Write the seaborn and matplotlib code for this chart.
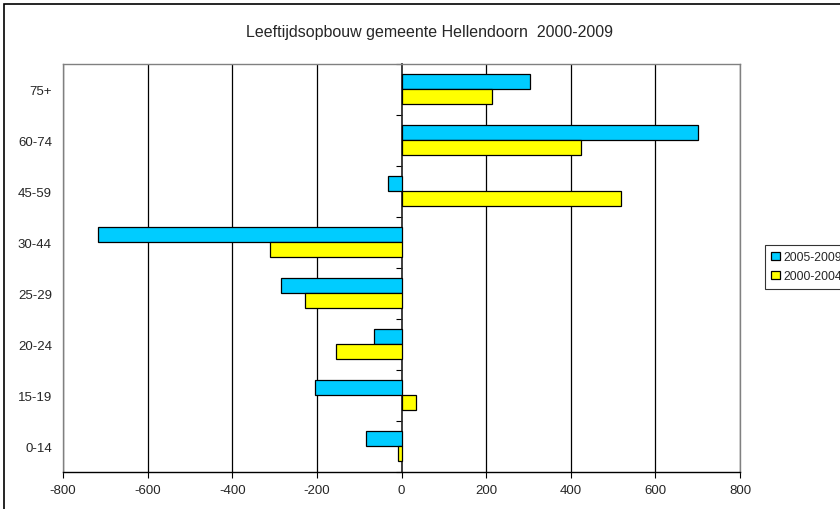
import matplotlib
matplotlib.use("Agg")
import matplotlib.pyplot as plt
import seaborn as sns
import pandas as pd
from matplotlib.patches import Rectangle
from matplotlib.ticker import FixedLocator

categories = ["75+", "60-74", "45-59", "30-44", "25-29", "20-24", "15-19", "0-14"]
series_names = ["2005-2009", "2000-2004"]
values_2005_2009 = [303, 700, -32, -718, -284, -66, -204, -83]
values_2000_2004 = [214, 424, 518, -311, -228, -154, 34, -8]
x_ticks = [-800, -600, -400, -200, 0, 200, 400, 600, 800]
colors = ["#00CCFF", "#FFFF00"]

df = pd.DataFrame({
    "cat": categories * 2,
    "val": values_2005_2009 + values_2000_2004,
    "series": [series_names[0]] * len(categories) + [series_names[1]] * len(categories),
})

sns.set_theme(style="white")
plt.rcParams["font.family"] = ["Liberation Sans", "DejaVu Sans"]

fig = plt.figure(figsize=(8.4, 5.1), dpi=100)
ax = fig.add_axes([63 / 840, 1 - 472.5 / 510, (740 - 63) / 840, (472.5 - 64.7) / 510])

sns.barplot(data=df, x="val", y="cat", hue="series", order=categories,
            hue_order=series_names, palette=colors, saturation=1, orient="h", width=0.58,
            edgecolor="black", linewidth=0.9, ax=ax, zorder=3, legend=True)

ax.set_xlim(-800, 800)
ax.set_ylim(len(categories) - 0.5, -0.5)
ax.set_xticks(x_ticks)
ax.set_xticklabels([str(t) for t in x_ticks], fontsize=9.5)
ax.set_xlabel("")
ax.set_ylabel("")
ax.tick_params(axis="y", length=0, pad=8, labelsize=9.5)
ax.tick_params(axis="x", direction="out", length=4, width=0.8, color="black", pad=5, bottom=True)
ax.grid(axis="x", color="black", linewidth=0.9, zorder=0)
ax.set_axisbelow(True)
for t, gl in zip(x_ticks, ax.xaxis.get_gridlines()):
    if t == 0:
        gl.set_visible(False)
for s in ax.spines.values():
    s.set_color("#808080")
    s.set_linewidth(1)
ax.spines["bottom"].set_color("black")

# category axis at zero with boundary tick marks
sec = ax.secondary_yaxis(0.5)
sec.yaxis.set_major_locator(FixedLocator([i - 0.5 for i in range(len(categories) + 1)]))
sec.yaxis.set_ticks_position("left")
sec.tick_params(axis="y", direction="out", length=4, width=0.8, color="black",
                labelleft=False, labelright=False, left=True, right=False)
sec.spines["left"].set_color("#808080")
sec.spines["left"].set_linewidth(1.2)
sec.spines["left"].set_zorder(4)

# legend
handles, labels = ax.get_legend_handles_labels()
ax.get_legend().remove()
leg = fig.legend(handles, labels, loc="upper left", bbox_to_anchor=(765 / 840, 1 - 246 / 510),
                 frameon=True, fontsize=8.8, handlelength=0.7, handleheight=0.7,
                 borderpad=0.5, labelspacing=0.6, handletextpad=0.3, fancybox=False,
                 borderaxespad=0)
leg.get_frame().set_edgecolor("black")
leg.get_frame().set_linewidth(0.8)

fig.text(430 / 840, 1 - 32 / 510, "Leeftijdsopbouw gemeente Hellendoorn  2000-2009",
         ha="center", va="center", fontsize=11.5)

fig.patches.append(Rectangle((4 / 840, -0.05), 1.1, 1 - 5 / 510 + 0.05, transform=fig.transFigure,
                             fill=False, edgecolor="black", linewidth=1.2))

fig.savefig("out.png", dpi=100)
